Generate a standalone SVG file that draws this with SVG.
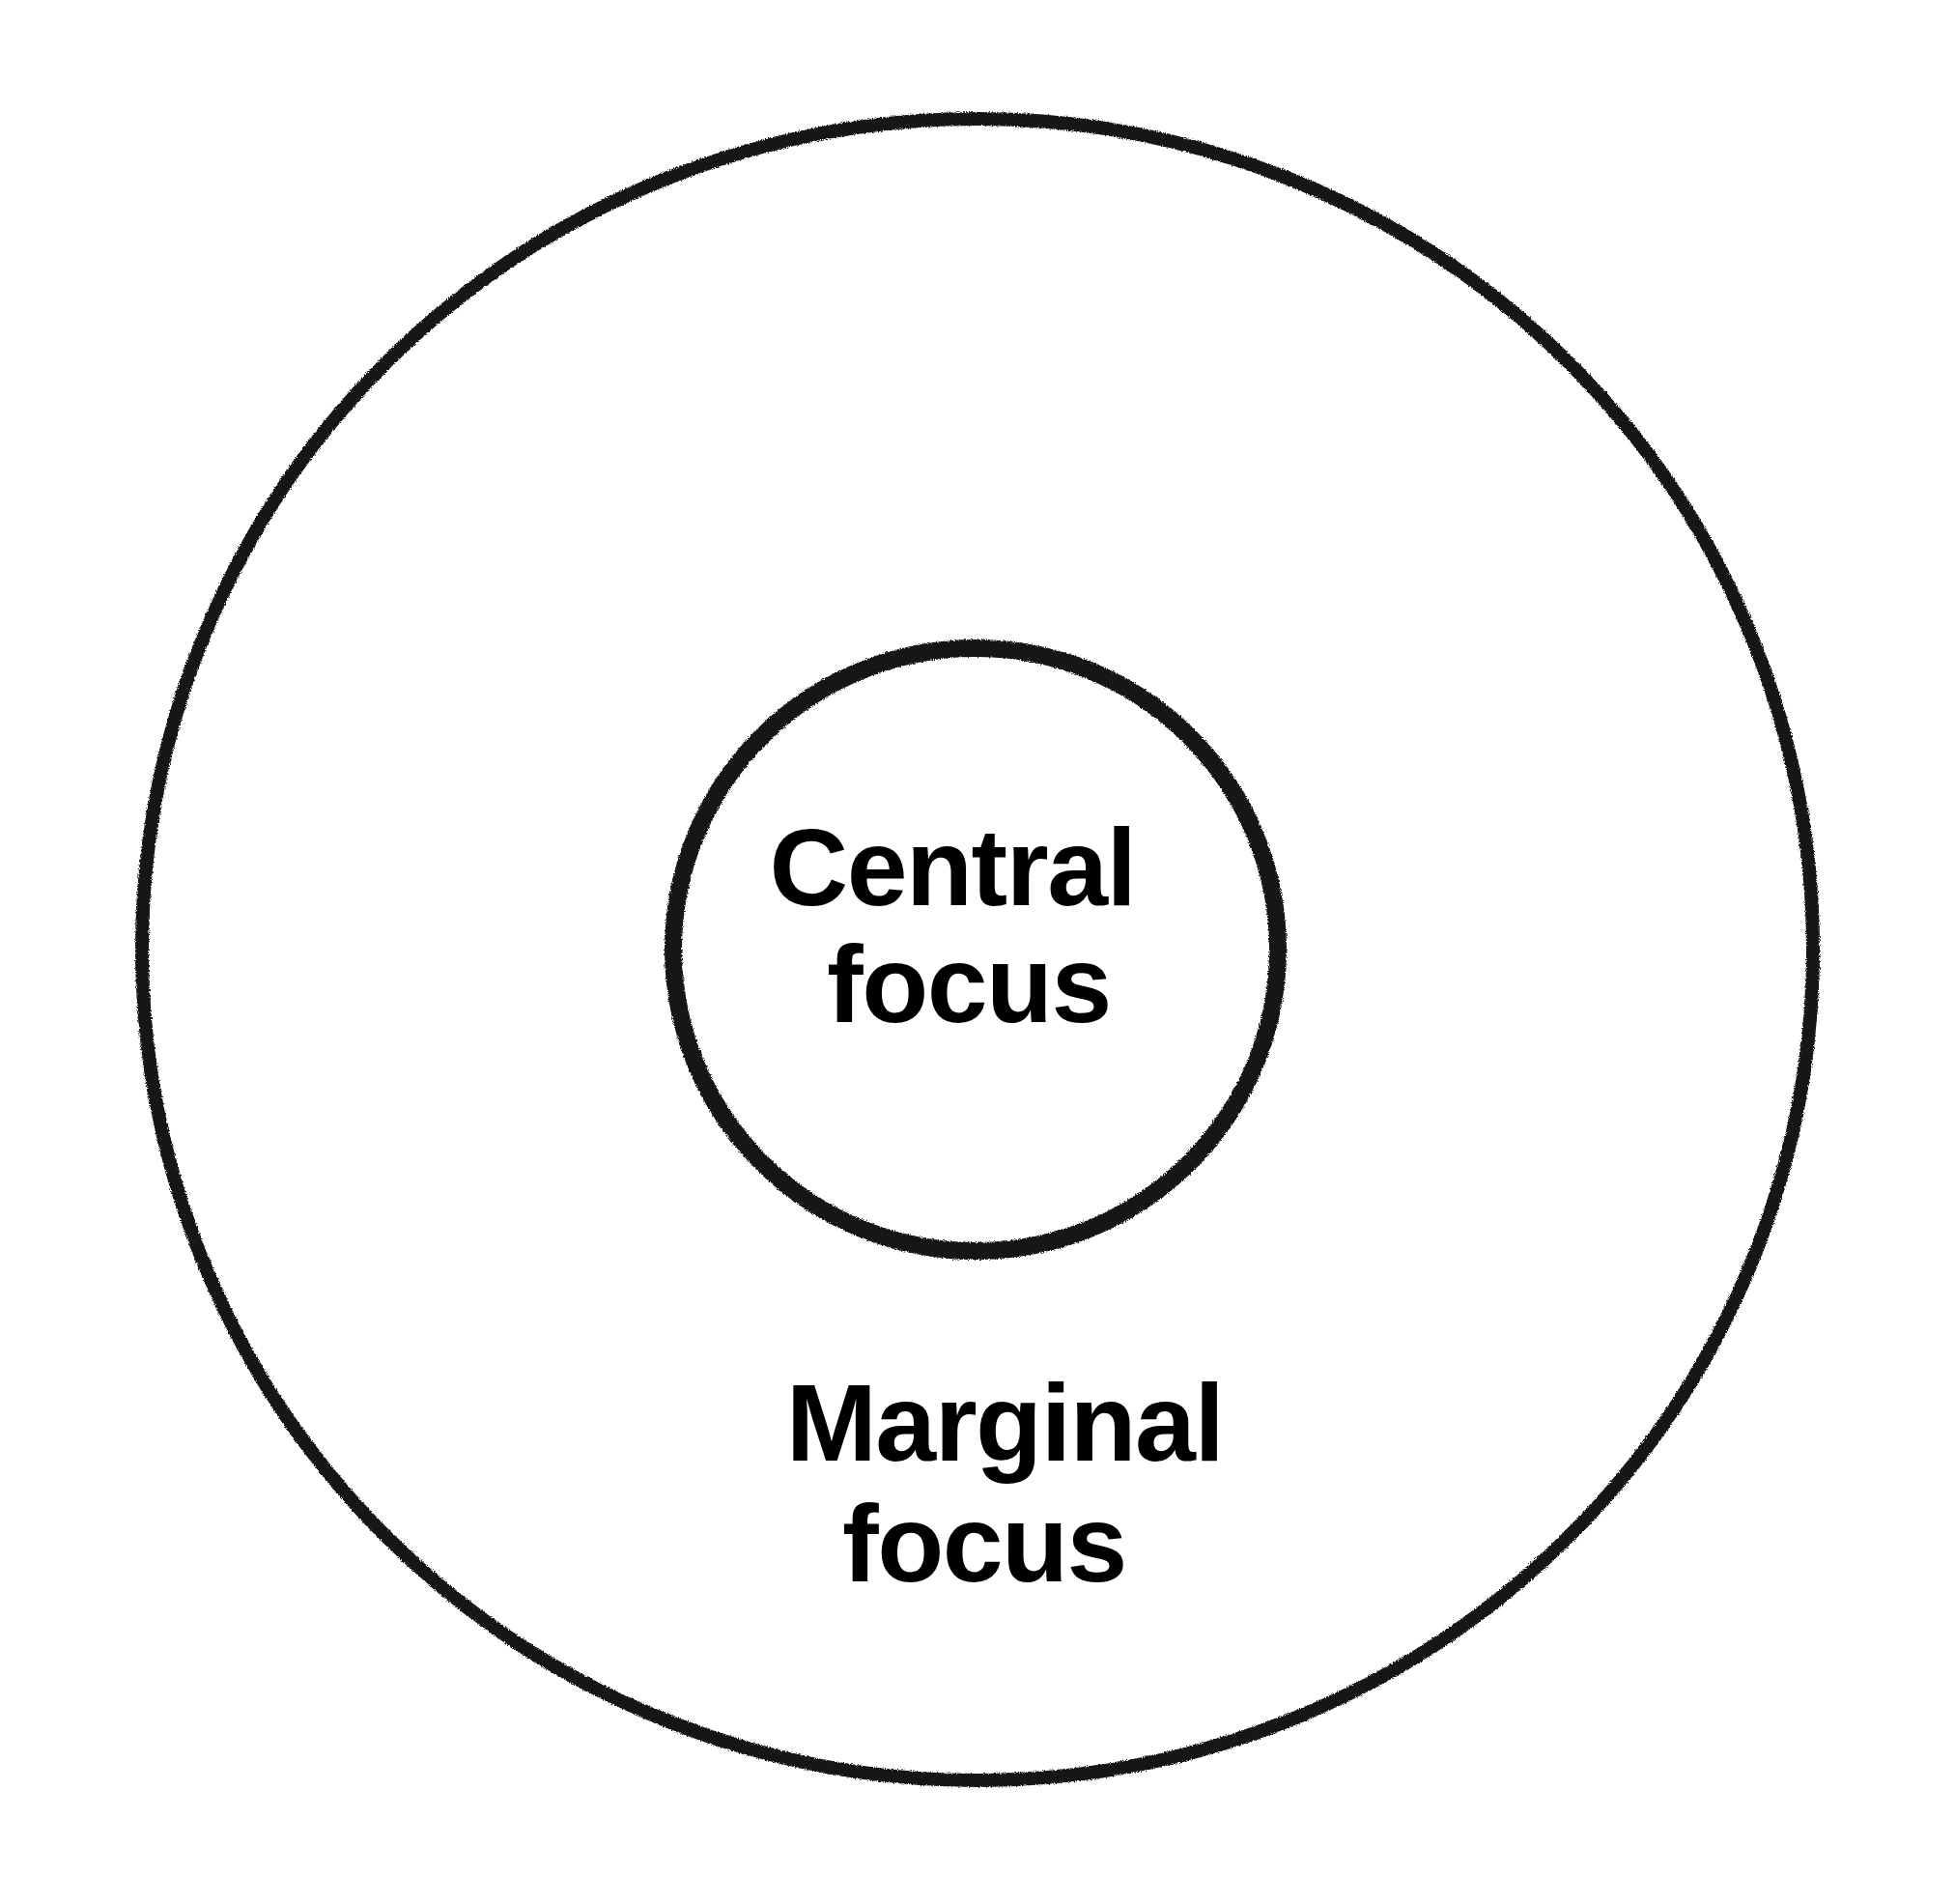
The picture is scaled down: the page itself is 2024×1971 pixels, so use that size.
<svg xmlns="http://www.w3.org/2000/svg" width="2024" height="1971" viewBox="0 0 2024 1971">
<style>
.ring{fill:none;stroke:#141414;}
.lbl{font-family:"Liberation Sans",Arial,sans-serif;font-weight:700;font-size:113px;fill:#000;text-anchor:middle;letter-spacing:-1.5px;}
</style>
<defs>
<filter id="rough" x="-5%" y="-5%" width="110%" height="110%">
<feTurbulence type="fractalNoise" baseFrequency="0.9" numOctaves="2" seed="3" result="n"/>
<feDisplacementMap in="SourceGraphic" in2="n" scale="4" xChannelSelector="R" yChannelSelector="G"/>
</filter>
</defs>
<rect x="0" y="0" width="2024" height="1971" fill="#fff"/>
<g id="marginal">
<ellipse class="ring" cx="1012" cy="983" rx="865" ry="860" stroke-width="14" filter="url(#rough)"/>
<text class="lbl" x="1040" y="1512">Marginal</text>
<text class="lbl" x="1019" y="1637">focus</text>
</g>
<g id="central">
<ellipse class="ring" cx="1010" cy="983" rx="313" ry="312" stroke-width="18" filter="url(#rough)"/>
<text class="lbl" x="986" y="937">Central</text>
<text class="lbl" x="1003" y="1058">focus</text>
</g>
<g id="connectors"></g>
</svg>
